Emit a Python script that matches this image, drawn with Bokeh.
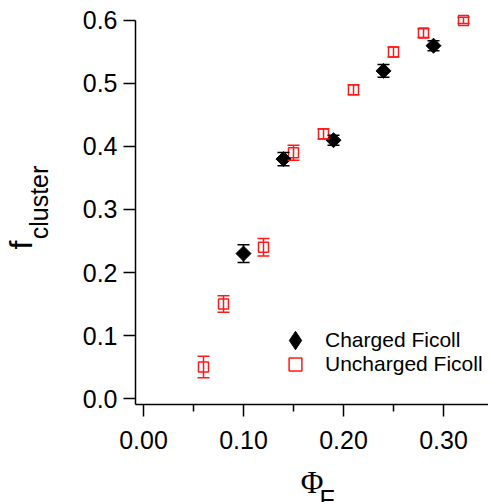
import numpy as np
from bokeh.plotting import figure
from bokeh.models import (ColumnDataSource, Whisker, TeeHead, Legend, LegendItem,
                          Title, FixedTicker, Range1d, NumeralTickFormatter)
from bokeh.embed import file_html
from bokeh.resources import INLINE

# ---- data ----
charged_phi = [0.10, 0.14, 0.19, 0.24, 0.29]
charged_f = [0.23, 0.38, 0.41, 0.52, 0.56]
charged_err = [0.014, 0.0105, 0.008, 0.010, 0.008]

uncharged_phi = [0.06, 0.08, 0.12, 0.15, 0.18, 0.21, 0.25, 0.28, 0.32]
uncharged_f = [0.05, 0.15, 0.24, 0.39, 0.42, 0.49, 0.55, 0.58, 0.60]
uncharged_err = [0.017, 0.013, 0.014, 0.012, 0.008, 0.008, 0.008, 0.007, 0.005]

x_major_ticks = [0.0, 0.1, 0.2, 0.3]
x_minor_ticks = [0.05, 0.15, 0.25]
y_major_ticks = [0.0, 0.1, 0.2, 0.3, 0.4, 0.5, 0.6]

series_labels = ["Charged Ficoll", "Uncharged Ficoll"]

RED = "#ff1a1a"
FONT = "Liberation Sans"

# ---- figure ----
y_lo, y_axis_top = -0.0095, 0.6
p = figure(width=488, height=502, output_backend="svg", toolbar_location=None,
           x_range=Range1d(-0.008, 0.345), y_range=Range1d(y_lo, 0.6317),
           min_border_left=135, min_border_right=0, min_border_top=0,
           min_border_bottom=97)
p.outline_line_color = None
p.grid.visible = False

p.xaxis.ticker = FixedTicker(ticks=x_major_ticks, minor_ticks=x_minor_ticks)
p.xaxis.formatter = NumeralTickFormatter(format="0.00")
p.yaxis.ticker = FixedTicker(ticks=y_major_ticks)
p.yaxis.formatter = NumeralTickFormatter(format="0.0")
p.yaxis.bounds = (y_lo, y_axis_top)

for ax in (p.xaxis, p.yaxis):
    ax.axis_line_width = 1.5
    ax.axis_line_color = "black"
    ax.major_tick_line_width = 1.5
    ax.major_tick_line_color = "black"
    ax.minor_tick_line_width = 1.5
    ax.minor_tick_line_color = "black"
    ax.major_tick_in = 0
    ax.major_tick_out = 12
    ax.minor_tick_in = 0
    ax.major_label_text_font = FONT
    ax.major_label_text_font_size = "25px"
    ax.major_label_text_color = "black"
    ax.axis_label_text_font_style = "normal"
    ax.axis_label_text_color = "black"

p.xaxis.minor_tick_out = 7
p.yaxis.minor_tick_out = 0
p.xaxis.major_label_standoff = 14
p.yaxis.major_label_standoff = 6

# ---- axis titles (main symbol / subscript) ----
p.yaxis.axis_label = "cluster"
p.yaxis.axis_label_text_font = FONT
p.yaxis.axis_label_text_font_size = "25px"
p.yaxis.axis_label_standoff = 27

p.xaxis.axis_label = "Φ"
p.xaxis.axis_label_text_font = "Liberation Serif"
p.xaxis.axis_label_text_font_size = "31px"
p.xaxis.axis_label_standoff = 13

p.add_layout(Title(text="f", align="left", offset=155, standoff=-34,
                   vertical_align="bottom", text_font=FONT, text_font_size="32px",
                   text_font_style="normal", text_color="black"), "left")
p.add_layout(Title(text="F", align="left", offset=184, standoff=-36,
                   vertical_align="top", text_font=FONT, text_font_size="25px",
                   text_font_style="normal", text_color="black"), "below")

# ---- error bars ----
src_c = ColumnDataSource(dict(x=charged_phi, y=charged_f,
                              lo=[a - b for a, b in zip(charged_f, charged_err)],
                              hi=[a + b for a, b in zip(charged_f, charged_err)]))
src_u = ColumnDataSource(dict(x=uncharged_phi, y=uncharged_f,
                              lo=[a - b for a, b in zip(uncharged_f, uncharged_err)],
                              hi=[a + b for a, b in zip(uncharged_f, uncharged_err)]))

for src, col in ((src_u, RED), (src_c, "black")):
    w = Whisker(source=src, base="x", lower="lo", upper="hi", dimension="height",
                line_color=col, line_width=1.5,
                upper_head=TeeHead(size=12, line_color=col, line_width=1.5),
                lower_head=TeeHead(size=12, line_color=col, line_width=1.5))
    w.level = "glyph"
    p.add_layout(w)

r_u = p.scatter("x", "y", source=src_u, marker="square", size=10,
                fill_color=None, line_color=RED, line_width=1.5)
r_c = p.scatter("x", "y", source=src_c, marker="square", angle=np.pi / 4,
                size=10.6, fill_color="black", line_color="black", line_width=1)

# legend key for the charged series (legend keys are drawn unrotated);
# a NaN point draws nothing in the plot itself
key_src = ColumnDataSource(dict(x=[np.nan], y=[np.nan]))
r_c_key = p.scatter("x", "y", source=key_src, marker="diamond", fill_color="black",
                    line_color="black", line_width=1)

# ---- legends ----
legend_c = Legend(items=[LegendItem(label=series_labels[0], renderers=[r_c_key])],
                  location=(137, 41), padding=0, margin=0,
                  glyph_width=46, glyph_height=46, label_standoff=7,
                  label_text_font=FONT, label_text_font_size="21px",
                  label_text_color="black",
                  background_fill_alpha=0, border_line_color=None)
legend_u = Legend(items=[LegendItem(label=series_labels[1], renderers=[r_u])],
                  location=(144, 24), padding=0, margin=0,
                  glyph_width=32, glyph_height=32, label_standoff=14,
                  label_text_font=FONT, label_text_font_size="21px",
                  label_text_color="black",
                  background_fill_alpha=0, border_line_color=None)
p.add_layout(legend_c)
p.add_layout(legend_u)

open("out.html", "w").write(file_html(p, INLINE))
